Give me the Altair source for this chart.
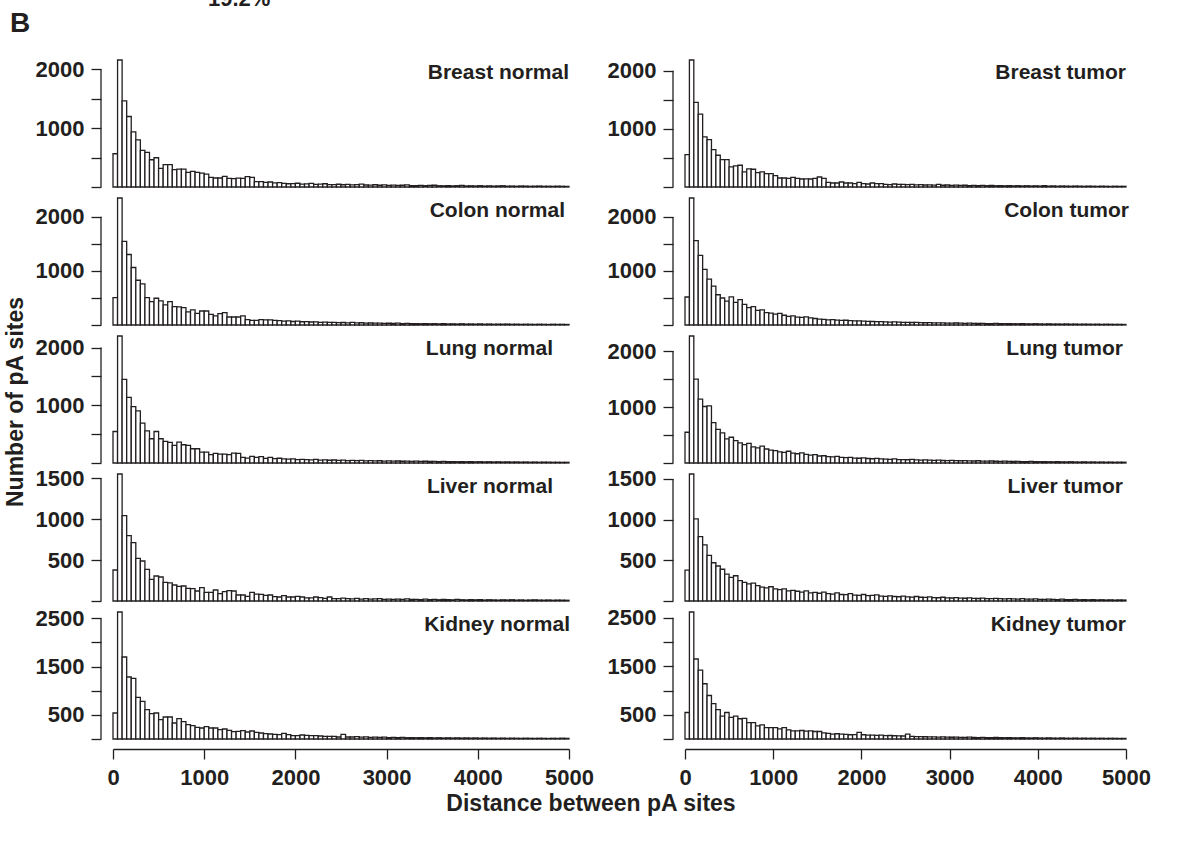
import altair as alt
import pandas as pd

INK = "#231f20"
FONT = "Liberation Sans"

# 50 bp bins covering 0-5000
bin_width = 50
bin_starts = list(range(0, 5000, bin_width))
x_ticks = [0, 1000, 2000, 3000, 4000, 5000]

breast_normal = [
    565, 2158, 1463, 1198, 938, 802, 621, 588, 463, 497,
    316, 379, 379, 294, 305, 305, 249, 266, 249, 237,
    220, 164, 153, 153, 181, 147, 141, 150, 147, 175,
    165, 92, 90, 80, 85, 70, 75, 62, 55, 58,
    64, 50, 52, 60, 45, 48, 55, 42, 40, 47,
    38, 44, 36, 40, 50, 34, 32, 38, 30, 35,
    28, 33, 26, 30, 36, 25, 24, 28, 22, 26,
    30, 21, 20, 24, 19, 22, 27, 18, 20, 17,
    22, 16, 19, 15, 18, 21, 14, 16, 13, 17,
    15, 12, 14, 16, 12, 13, 11, 14, 12, 10,
]
breast_tumor = [
    557, 2184, 1454, 1253, 862, 816, 644, 546, 471, 471,
    345, 362, 374, 259, 310, 305, 247, 259, 230, 230,
    195, 155, 155, 149, 167, 149, 138, 140, 138, 150,
    172, 150, 80, 69, 69, 86, 69, 69, 57, 80,
    57, 52, 69, 57, 57, 46, 40, 52, 46, 46,
    40, 44, 36, 42, 34, 38, 32, 45, 30, 34,
    28, 32, 27, 30, 25, 29, 24, 27, 22, 26,
    21, 24, 20, 23, 19, 22, 18, 21, 17, 20,
    16, 25, 15, 18, 14, 17, 15, 13, 16, 14,
    12, 15, 13, 11, 14, 12, 10, 13, 11, 12,
]
colon_normal = [
    506, 2346, 1543, 1302, 1062, 827, 759, 506, 432, 494,
    444, 370, 432, 340, 333, 321, 241, 278, 216, 259,
    259, 198, 167, 210, 228, 148, 148, 148, 167, 99,
    86, 86, 99, 93, 93, 86, 80, 72, 78, 65,
    70, 60, 62, 55, 58, 50, 54, 47, 50, 44,
    46, 40, 48, 38, 42, 35, 37, 33, 36, 30,
    32, 28, 34, 26, 29, 25, 27, 23, 26, 22,
    24, 20, 25, 19, 21, 18, 22, 17, 19, 16,
    20, 15, 18, 14, 16, 15, 17, 13, 15, 12,
    14, 13, 11, 14, 12, 10, 13, 11, 12, 10,
]
colon_tumor = [
    518, 2350, 1560, 1290, 1030, 850, 720, 560, 500, 440,
    520, 420, 470, 380, 320, 340, 270, 280, 230, 220,
    200, 215, 180, 160, 170, 145, 140, 150, 130, 120,
    110, 105, 95, 100, 90, 85, 88, 80, 75, 78,
    70, 68, 65, 62, 64, 58, 55, 57, 52, 50,
    48, 46, 50, 44, 42, 45, 40, 38, 41, 36,
    34, 37, 33, 31, 34, 30, 28, 31, 27, 26,
    29, 25, 24, 27, 23, 22, 25, 21, 20, 23,
    19, 18, 21, 17, 18, 16, 19, 15, 17, 14,
    16, 15, 13, 15, 12, 14, 13, 11, 12, 10,
]
lung_normal = [
    546, 2201, 1448, 1138, 977, 902, 690, 557, 420, 546,
    420, 374, 356, 305, 362, 316, 305, 247, 247, 190,
    190, 144, 167, 155, 155, 144, 172, 167, 98, 86,
    115, 98, 109, 80, 98, 75, 82, 70, 66, 72,
    60, 64, 58, 55, 62, 50, 54, 48, 52, 45,
    49, 42, 46, 40, 44, 38, 41, 36, 39, 34,
    37, 32, 35, 30, 33, 29, 31, 27, 30, 26,
    28, 24, 27, 23, 25, 22, 24, 21, 23, 20,
    22, 19, 21, 18, 20, 17, 19, 16, 18, 15,
    17, 14, 16, 13, 15, 14, 12, 13, 11, 12,
]
lung_tumor = [
    550, 2270, 1500, 1140, 1010, 1020, 720, 600, 540, 430,
    460, 400, 360, 330, 350, 290, 270, 300, 250, 230,
    220, 200, 190, 210, 175, 165, 180, 155, 140, 150,
    125, 130, 115, 110, 118, 100, 95, 102, 88, 85,
    90, 80, 76, 82, 72, 70, 66, 72, 62, 60,
    58, 64, 55, 52, 56, 50, 48, 52, 45, 44,
    47, 42, 40, 43, 38, 36, 40, 35, 33, 36,
    31, 30, 33, 28, 27, 30, 26, 25, 28, 24,
    23, 26, 22, 21, 24, 20, 19, 22, 18, 17,
    20, 16, 18, 15, 17, 14, 16, 13, 15, 14,
]
liver_normal = [
    378, 1549, 1041, 797, 711, 520, 488, 386, 264, 305,
    293, 228, 220, 195, 179, 183, 154, 150, 122, 163,
    106, 106, 134, 89, 114, 126, 122, 73, 73, 57,
    106, 85, 81, 69, 73, 53, 49, 65, 49, 49,
    57, 49, 37, 37, 49, 41, 33, 49, 28, 28,
    35, 30, 26, 32, 24, 28, 22, 26, 30, 21,
    24, 20, 23, 19, 25, 18, 21, 17, 22, 16,
    20, 15, 18, 17, 14, 19, 15, 13, 17, 14,
    16, 12, 15, 13, 11, 14, 12, 15, 11, 13,
    10, 12, 14, 11, 10, 12, 9, 11, 10, 9,
]
liver_tumor = [
    380, 1560, 1010, 790, 690, 560, 470, 430, 390, 330,
    290, 310, 250, 230, 210, 220, 190, 170, 160, 175,
    150, 140, 150, 125, 130, 120, 110, 125, 100, 105,
    95, 110, 90, 85, 100, 80, 78, 90, 72, 70,
    80, 65, 68, 75, 60, 58, 64, 55, 52, 60,
    50, 48, 55, 46, 44, 50, 42, 40, 46, 38,
    37, 42, 35, 34, 38, 32, 31, 35, 30, 29,
    33, 28, 27, 30, 25, 24, 28, 23, 22, 26,
    21, 20, 24, 19, 18, 22, 17, 16, 20, 15,
    18, 14, 16, 13, 15, 12, 14, 11, 13, 12,
]
kidney_normal = [
    538, 2628, 1697, 1283, 1255, 862, 779, 607, 524, 538,
    400, 455, 455, 331, 421, 359, 297, 276, 241, 228,
    255, 228, 228, 193, 207, 179, 152, 159, 172, 145,
    166, 138, 124, 110, 103, 97, 90, 117, 90, 69,
    69, 83, 76, 69, 69, 62, 55, 55, 55, 41,
    97, 41, 41, 48, 38, 44, 35, 40, 33, 37,
    30, 34, 28, 32, 26, 30, 25, 28, 24, 27,
    22, 26, 21, 24, 20, 23, 19, 22, 18, 21,
    17, 20, 16, 19, 15, 18, 14, 17, 15, 13,
    16, 14, 12, 15, 13, 11, 14, 12, 16, 13,
]
kidney_tumor = [
    547, 2620, 1650, 1420, 1140, 897, 729, 607, 472, 547,
    445, 472, 418, 425, 337, 337, 270, 290, 236, 236,
    236, 209, 236, 189, 169, 169, 175, 162, 169, 155,
    155, 128, 115, 101, 108, 101, 95, 88, 92, 135,
    88, 82, 80, 75, 78, 70, 72, 67, 65, 62,
    101, 55, 50, 48, 46, 44, 42, 40, 43, 38,
    36, 40, 34, 33, 37, 31, 30, 34, 29, 28,
    31, 27, 26, 29, 24, 23, 27, 22, 21, 25,
    20, 19, 23, 18, 17, 21, 16, 15, 19, 14,
    17, 14, 16, 13, 15, 12, 14, 13, 11, 12,
]

# per tissue: y tick top and the ticks that carry a label
tissue_axes = {
    "Breast": (2000, [1000, 2000]),
    "Colon": (2000, [1000, 2000]),
    "Lung": (2000, [1000, 2000]),
    "Liver": (1500, [500, 1000, 1500]),
    "Kidney": (2500, [500, 1500, 2500]),
}

panels = [
    ("Breast normal", breast_normal, "Breast", 0), ("Breast tumor", breast_tumor, "Breast", 0),
    ("Colon normal", colon_normal, "Colon", -4), ("Colon tumor", colon_tumor, "Colon", 3),
    ("Lung normal", lung_normal, "Lung", -16), ("Lung tumor", lung_tumor, "Lung", -3),
    ("Liver normal", liver_normal, "Liver", -16), ("Liver tumor", liver_tumor, "Liver", -3),
    ("Kidney normal", kidney_normal, "Kidney", 1), ("Kidney tumor", kidney_tumor, "Kidney", 0),
]

LEFT_W, RIGHT_W, PANEL_H = 456, 441, 127


def note(text, x, y, size=22, align="center", baseline="alphabetic", angle=0):
    return alt.Chart(pd.DataFrame({"t": [text]})).mark_text(
        align=align, baseline=baseline, fontSize=size, fontWeight="bold",
        font=FONT, color=INK, angle=angle,
    ).encode(x=alt.value(x), y=alt.value(y), text="t:N")


def panel(name, values, tissue, shift, width, bottom, extras):
    assert len(values) == len(bin_starts)
    top_tick, labelled = tissue_axes[tissue]
    frame = pd.DataFrame({
        "start": bin_starts,
        "end": [s + bin_width for s in bin_starts],
        "count": values,
        "base": [0] * len(bin_starts),
    })
    cond = " || ".join(f"datum.value == {v}" for v in labelled)
    y_axis = alt.Axis(
        values=list(range(0, top_tick + 1, 500)), labelExpr=f"({cond}) ? datum.label : ''",
        domain=False, offset=12, tickSize=10, labelPadding=7, title=None, grid=False,
        labelOverlap=False, format="d",
    )
    x_axis = alt.Axis(
        values=x_ticks, tickSize=10, offset=10, labelPadding=8, labelFlush=False,
        title=None, grid=False, labelOverlap=False, format="d",
    ) if bottom else None
    y_scale = alt.Scale(nice=False, zero=True)
    bars = alt.Chart(frame).mark_bar(
        fill="white", stroke=INK, strokeWidth=1.3
    ).encode(
        x=alt.X("start:Q", scale=alt.Scale(domain=[0, 5000], nice=False, zero=False), axis=x_axis),
        x2="end:Q",
        y=alt.Y("count:Q", scale=y_scale, axis=y_axis),
        y2="base:Q",
    )
    # axis line that stops at the highest tick
    spine = alt.Chart(pd.DataFrame({"lo": [0], "hi": [top_tick]})).mark_rule(
        color=INK, strokeWidth=1.3
    ).encode(x=alt.value(-12), y=alt.Y("lo:Q", scale=y_scale, axis=y_axis), y2="hi:Q")
    tag = note(name, width + shift, 13, size=21, align="right", baseline="middle")
    return alt.layer(bars, spine, tag, *extras).properties(width=width, height=PANEL_H)


charts = []
for i, (name, values, tissue, shift) in enumerate(panels):
    left = i % 2 == 0
    width = LEFT_W if left else RIGHT_W
    extras = []
    if name == "Breast normal":
        extras = [
            note("B", -103, -28, size=28, align="left"),
            note("19.2%", 95, -54, size=22, align="left"),
        ]
    elif name == "Lung normal":
        extras = [note("Number of pA sites", -90, 66, size=23, angle=270)]
    elif name == "Kidney normal":
        extras = [note("Distance between pA sites", 478, 199, size=23)]
    charts.append(panel(name, values, tissue, shift, width, tissue == "Kidney", extras))

chart = alt.concat(
    *charts, columns=2, spacing={"row": 11, "column": 116}, bounds="flush"
).properties(
    padding={"left": 5, "top": -12, "right": 10, "bottom": 10},
    background="white",
).configure_view(stroke=None).configure_axis(
    labelFont=FONT, labelFontSize=22, labelFontWeight="bold", labelColor=INK,
    tickColor=INK, domainColor=INK, tickWidth=1.3, domainWidth=1.3,
)

chart.save("out.html", embed_options={"renderer": "svg", "actions": False})
